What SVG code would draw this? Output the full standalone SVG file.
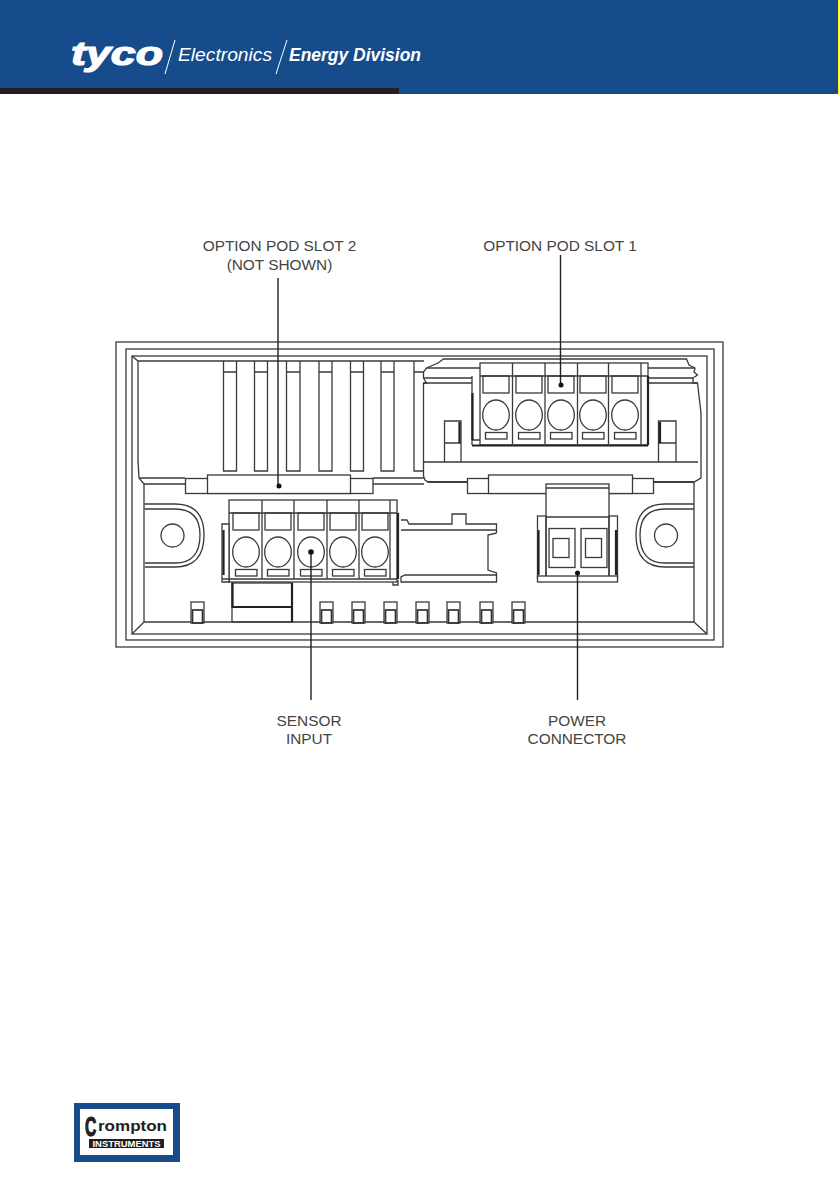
<svg xmlns="http://www.w3.org/2000/svg" width="839" height="1191" viewBox="0 0 839 1191">
<style>
.l{fill:none;stroke:#3a3a3a;stroke-width:1.3}
.t{fill:none;stroke:#222;stroke-width:2.2}
.t2{fill:none;stroke:#333;stroke-width:1.7}
.w{fill:#fff;stroke:#3a3a3a;stroke-width:1.3}
.lead{fill:none;stroke:#222;stroke-width:1.4}
.lab{font-family:"Liberation Sans",Arial,sans-serif;font-size:15.4px;fill:#444;text-anchor:middle}
.logo{font-family:"Liberation Sans",Arial,sans-serif;fill:#fff;font-style:italic}
</style>
<defs>
<g id="tab"><rect class="w" x="0" y="0" width="13" height="21"/><rect class="t2" x="1.500" y="8" width="10" height="13"/></g>
<g id="cell"><rect class="l" x="0" y="0" width="26" height="17"/><ellipse class="l" cx="13" cy="39" rx="13.300" ry="15"/><rect class="l" x="2.500" y="56.500" width="21.500" height="6.500"/></g>
</defs>
<g id="header">
<rect x="0" y="0" width="839" height="94" fill="#174c8c"/>
<rect x="838" y="0" width="1" height="94" fill="#ffff00"/>
<rect x="0" y="88" width="399" height="6" fill="#231f20"/>
<text class="logo" x="71" y="65" font-size="33" font-weight="700" stroke="#fff" stroke-width="1.200" textLength="92" lengthAdjust="spacingAndGlyphs">tyco</text>
<path d="M175 40L165 74M287 40L276 74" stroke="#fff" stroke-width="1" fill="none"/>
<text class="logo" x="178" y="61" font-size="19" textLength="94" lengthAdjust="spacingAndGlyphs">Electronics</text>
<text class="logo" x="289" y="61" font-size="19" font-weight="700" textLength="132" lengthAdjust="spacingAndGlyphs">Energy Division</text>
</g>
<g id="housing">
<rect class="l" x="116" y="342" width="607" height="305"/>
<rect class="l" x="126" y="349" width="588" height="291"/>
<rect class="l" x="132" y="356" width="575" height="278"/>
<path class="l" d="M132 356L138 361H424M138 361V460L139 478L144 484V622H694V482M144 622L132 634M694 622L707 634"/>
<path class="l" d="M139 478H185M144 484H185M373 478H424M373 484H424"/>
<path class="l" d="M144.500 504H175Q204 504 204 535Q204 567 175 567H145M144.500 509H175Q200 509 200 535Q200 563 175 563H145"/>
<circle class="l" cx="172.500" cy="535.500" r="11.500"/>
<path class="l" d="M694 504H665Q636 504 636 535Q636 567 665 567H694M694 509H665Q640 509 640 535Q640 563 665 563H694"/>
<circle class="l" cx="666" cy="535.500" r="11.500"/>
</g>
<g id="slots">
<path class="l" d="M223.500 361V471H236.500V361M223.500 372H236.500M254.500 361V471H267.500V361M254.500 372H267.500M286.500 361V471H300V361M286.500 372H300M319 361V471H332V361M319 372H332M350.500 361V471H363.500V361M350.500 372H363.500M381 361V471H394V361M381 372H394M414 361V471H424M414 372H424"/>
</g>
<g id="option-pod-slot-2">
<rect class="w" x="185.500" y="478.500" width="187.500" height="15"/>
<rect class="w" x="207.500" y="475" width="143" height="18.500"/>
</g>
<g id="option-pod-slot-1">
<path class="w" d="M443.500 359H686.500L689 365L695 368L694 372L697.500 375L693 378V383H697.500L701 413V478L694 482H428L425 480L423.500 476V383H426.500L423.500 378V372L426.500 368L438 363Z"/>
<path class="l" d="M426.500 368H480M648 368H695M423.500 378H472M648 378H693M424 383H472M648 383H697.500M424 462H698"/>
<path class="l" d="M444.500 462V421H461V462M658.500 462V421H676V462M444.500 443H461M658.500 443H676"/>
<path class="t" d="M459.500 422V443M660 422V443"/>
<path class="t2" d="M428 482H694"/>
<rect class="w" x="467.500" y="478.500" width="186" height="15"/>
<rect class="w" x="488.500" y="475" width="144" height="18.500"/>
<rect class="w" x="480" y="363" width="168" height="82"/>
<path class="l" d="M480 376H648M512.500 363V444M545 363V444M577.500 363V444M608.500 363V444M641 363V444"/>
<path class="l" d="M472 376V445M472 440H480"/>
<path class="t" d="M472.500 393V440M472 445.500H648M648 376V445"/>
<use href="#cell" x="483" y="376"/><use href="#cell" x="516" y="376"/><use href="#cell" x="548" y="376"/><use href="#cell" x="580" y="376"/><use href="#cell" x="612" y="376"/>
</g>
<g id="mid-rail">
<path class="l" d="M401 520H407L409 524H452V514H466V524H496.500V533M401 530H496.500M496.500 533L488 535V570L496.500 573V582H401V577L405 575H496.500"/>
</g>
<g id="sensor-input">
<rect class="l" x="232" y="583" width="60" height="39"/>
<path class="t" d="M232.500 583V607H292V583M292 607V622"/>
<rect class="w" x="229" y="500" width="168" height="82"/>
<path class="l" d="M229 513H397M262 500V579M294 500V579M327 500V579M359 500V579M390 500V579"/>
<path class="w" d="M222 524H229V582H222Z"/>
<path class="l" d="M222 579H397"/>
<path class="t" d="M223.500 530V575M398 513V579"/>
<path class="l" d="M393 582V585H398V580"/>
<use href="#cell" x="233" y="513"/><use href="#cell" x="265" y="513"/><use href="#cell" x="298" y="513"/><use href="#cell" x="330" y="513"/><use href="#cell" x="362" y="513"/>
</g>
<g id="power-connector">
<rect class="w" x="546" y="484" width="63" height="94"/>
<path class="l" d="M546 488H609M546 517H609"/>
<rect class="l" x="537.500" y="516" width="8.500" height="62"/>
<rect class="l" x="609" y="516" width="8.500" height="62"/>
<path class="t" d="M538.500 530V575M616 530V575"/>
<rect class="w" x="537.500" y="576" width="80" height="6"/>
<rect class="l" x="549" y="528.500" width="26" height="39"/>
<rect class="l" x="581" y="528.500" width="26" height="39"/>
<rect class="l" x="553" y="538.500" width="16" height="19"/>
<rect class="l" x="585.500" y="538.500" width="16" height="19"/>
</g>
<g id="tabs">
<use href="#tab" x="191" y="602"/><use href="#tab" x="320" y="602"/><use href="#tab" x="352" y="602"/><use href="#tab" x="384" y="602"/><use href="#tab" x="416" y="602"/><use href="#tab" x="447" y="602"/><use href="#tab" x="480" y="602"/><use href="#tab" x="512" y="602"/>
</g>
<g id="connectors">
<path class="lead" d="M560.500 255V385M278 278V485M311 552V700M577.500 573V700"/>
<circle cx="561" cy="385" r="2.500" fill="#111"/><circle cx="279" cy="486" r="2.500" fill="#111"/><circle cx="311" cy="552" r="2.800" fill="#111"/><circle cx="577.500" cy="573" r="2.500" fill="#111"/>
</g>
<g id="labels">
<text class="lab" x="279.500" y="251">OPTION POD SLOT 2</text>
<text class="lab" x="279.500" y="270">(NOT SHOWN)</text>
<text class="lab" x="560" y="251">OPTION POD SLOT 1</text>
<text class="lab" x="309" y="726">SENSOR</text>
<text class="lab" x="309" y="744">INPUT</text>
<text class="lab" x="577" y="726">POWER</text>
<text class="lab" x="577" y="744">CONNECTOR</text>
</g>
<g id="crompton-logo">
<rect x="74" y="1103" width="106" height="59" fill="#174c8c"/>
<rect x="80" y="1109" width="93" height="46" fill="#fff"/>
<text transform="translate(85 1136) scale(.58 1)" font-family="Liberation Sans,Arial,sans-serif" font-size="27" font-weight="700" fill="#231f20" stroke="#231f20" stroke-width="1.200">C</text>
<text x="98" y="1131" font-family="Liberation Sans,Arial,sans-serif" font-size="15" font-weight="700" fill="#231f20" textLength="69" lengthAdjust="spacingAndGlyphs">rompton</text>
<rect x="89" y="1139" width="75" height="9" fill="#231f20"/>
<text x="126.500" y="1147" font-family="Liberation Sans,Arial,sans-serif" font-size="8.500" font-weight="700" fill="#fff" text-anchor="middle" textLength="68" lengthAdjust="spacingAndGlyphs">INSTRUMENTS</text>
</g>
</svg>
